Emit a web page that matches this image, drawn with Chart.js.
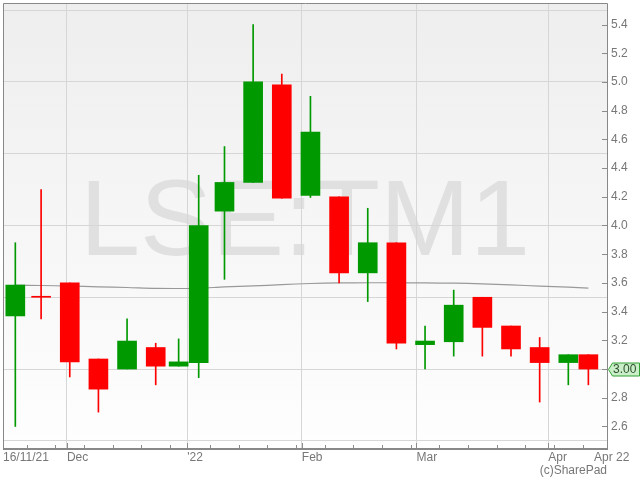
<!DOCTYPE html>
<html>
<head>
<meta charset="utf-8">
<script src="https://cdn.jsdelivr.net/npm/chart.js@4.4.0/dist/chart.umd.min.js"></script>
<style>
  html, body { margin: 0; padding: 0; background: #fff; }
</style>
</head>
<body>
<canvas id="chart" width="640" height="480"></canvas>
<script>
// Weekly candles: first trading day of each week
const weeks = ['2021-11-16', '2021-11-22', '2021-11-29', '2021-12-06', '2021-12-13', '2021-12-20', '2021-12-29',
    '2022-01-04', '2022-01-10', '2022-01-17', '2022-01-24', '2022-01-31', '2022-02-07', '2022-02-14', '2022-02-21',
    '2022-02-28', '2022-03-07', '2022-03-14', '2022-03-21', '2022-03-28', '2022-04-04', '2022-04-11'];
const open  = [3.37, 3.50, 3.60, 3.07, 3.00, 3.15, 3.02, 3.045, 4.10, 4.30, 4.98, 4.21, 4.20, 3.67, 3.88, 3.17, 3.19, 3.50, 3.30, 3.15, 3.045, 3.10];
const high  = [3.88, 4.25, 3.60, 3.07, 3.35, 3.18, 3.21, 4.35, 4.55, 5.40, 5.055, 4.90, 4.20, 4.12, 3.88, 3.30, 3.55, 3.50, 3.30, 3.22, 3.10, 3.10];
const low   = [2.60, 3.35, 2.945, 2.70, 3.00, 2.89, 3.02, 2.94, 3.625, 4.30, 4.19, 4.195, 3.60, 3.47, 3.14, 3.00, 3.09, 3.09, 3.09, 2.77, 2.89, 2.89];
const close = [3.585, 3.50, 3.05, 2.86, 3.195, 3.02, 3.05, 4.00, 4.30, 5.00, 4.19, 4.65, 3.67, 3.88, 3.18, 3.195, 3.445, 3.29, 3.14, 3.045, 3.10, 3.00];
// moving average (grey line)
const ma    = [3.585, 3.582, 3.578, 3.573, 3.568, 3.562, 3.561, 3.563, 3.572, 3.579, 3.588, 3.596, 3.600, 3.601, 3.601, 3.600, 3.598, 3.594, 3.586, 3.578, 3.570, 3.564];

// trading calendar (LSE)
const firstDay = '2021-11-16';
const lastDay = '2022-04-12';
const holidays = ['2021-12-27', '2021-12-28', '2022-01-03'];

// axis labels
const monthStarts = ['2021-12-01', '2022-01-01', '2022-02-01', '2022-03-01', '2022-04-01'];
const monthLabels = ['Dec', "'22", 'Feb', 'Mar', 'Apr'];
const startLabel = '16/11/21';
const endLabel = 'Apr 22';
const yLabelValues = [2.6, 2.8, 3.0, 3.2, 3.4, 3.6, 3.8, 4.0, 4.2, 4.4, 4.6, 4.8, 5.0, 5.2, 5.4];
const yGridValues = [2.5, 3.0, 3.5, 4.0, 4.5, 5.0, 5.5];
const ticker = 'LSE:TM1';

const upColor = '#009900';
const downColor = '#ff0000';
const gridColor = '#d6d6d6';

// build list of trading days, x axis is trading-day index
const days = [];
for (let d = new Date(firstDay + 'T00:00:00Z'); d <= new Date(lastDay + 'T00:00:00Z'); d.setUTCDate(d.getUTCDate() + 1)) {
    const wd = d.getUTCDay();
    const iso = d.toISOString().slice(0, 10);
    if (wd === 0 || wd === 6 || holidays.includes(iso)) continue;
    days.push(iso);
}

const mondayOf = (iso) => {
    const d = new Date(iso + 'T00:00:00Z');
    d.setUTCDate(d.getUTCDate() - ((d.getUTCDay() + 6) % 7));
    return d.toISOString().slice(0, 10);
};

// candle sits in the middle of its week's trading days
const xs = weeks.map(w => {
    const m = mondayOf(w);
    const idx = [];
    days.forEach((d, i) => { if (mondayOf(d) === m) idx.push(i); });
    return idx.reduce((a, b) => a + b, 0) / idx.length;
});
const weekEdges = weeks.slice(1).map(w => days.indexOf(w) - 0.5);
const monthEdges = monthStarts.map(m => days.findIndex(d => d >= m) - 0.5);

const xMin = -0.65;
const xMax = 104.75;
const xTicks = [xMin, ...monthEdges, days.length - 0.5];
const xLabels = [startLabel, ...monthLabels, endLabel];
const yTicks = [...new Set([...yLabelValues, ...yGridValues].map(v => v.toFixed(1)))].map(Number).sort((a, b) => a - b);

const colors = open.map((o, i) => close[i] > o ? upColor : downColor);
const near = (list, v) => list.some(t => Math.abs(t - v) < 1e-6);

Chart.defaults.font.family = '"Liberation Sans", Arial, sans-serif';
Chart.defaults.font.size = 12;
Chart.defaults.color = '#777';

// background, watermark, inner tick marks, frame and last price tag
const sharePadLook = {
    id: 'sharePadLook',
    beforeDraw(chart) {
        const { ctx, chartArea: a } = chart;
        ctx.save();
        const g = ctx.createLinearGradient(0, a.top, 0, a.bottom);
        g.addColorStop(0, '#eeeeee');
        g.addColorStop(1, '#fefefe');
        ctx.fillStyle = g;
        ctx.fillRect(a.left, a.top, a.right - a.left, a.bottom - a.top);
        ctx.font = '108px "Liberation Sans", Arial, sans-serif';
        ctx.fillStyle = '#e0e0e0';
        ctx.textAlign = 'center';
        ctx.textBaseline = 'alphabetic';
        ctx.fillText(ticker, (a.left + a.right) / 2, a.top + 252);
        ctx.restore();
    },
    afterDraw(chart) {
        const { ctx, chartArea: a, scales } = chart;
        ctx.save();
        ctx.strokeStyle = '#8c8c8c';
        ctx.lineWidth = 1;
        ctx.beginPath();
        weekEdges.forEach(v => {
            const px = Math.round(scales.x.getPixelForValue(v)) + 0.5;
            ctx.moveTo(px, a.bottom);
            ctx.lineTo(px, a.bottom - 4);
        });
        monthEdges.forEach(v => {
            const px = Math.round(scales.x.getPixelForValue(v)) + 0.5;
            ctx.moveTo(px, a.bottom);
            ctx.lineTo(px, a.bottom - 6);
        });
        yLabelValues.forEach(v => {
            const py = Math.round(scales.y.getPixelForValue(v)) + 0.5;
            ctx.moveTo(a.right - 5, py);
            ctx.lineTo(a.right, py);
        });
        ctx.stroke();

        // frame
        ctx.strokeStyle = '#888';
        ctx.beginPath();
        ctx.moveTo(a.left + 0.5, a.bottom);
        ctx.lineTo(a.left + 0.5, a.top + 0.5);
        ctx.lineTo(a.right + 0.5, a.top + 0.5);
        ctx.lineTo(a.right + 0.5, a.bottom);
        ctx.stroke();
        ctx.lineWidth = 2;
        ctx.beginPath();
        ctx.moveTo(a.left, a.bottom);
        ctx.lineTo(a.right + 1, a.bottom);
        ctx.stroke();

        // last price tag
        const last = close[close.length - 1];
        const y = Math.round(scales.y.getPixelForValue(last)) + 0.5;
        ctx.lineWidth = 1;
        ctx.fillStyle = '#c9efc9';
        ctx.strokeStyle = '#33a033';
        ctx.beginPath();
        ctx.moveTo(a.right + 1.5, y);
        ctx.lineTo(a.right + 5.5, y - 6.5);
        ctx.lineTo(639.5, y - 6.5);
        ctx.lineTo(639.5, y + 6.5);
        ctx.lineTo(a.right + 5.5, y + 6.5);
        ctx.closePath();
        ctx.fill();
        ctx.stroke();
        ctx.fillStyle = '#2f4f2f';
        ctx.font = '12px "Liberation Sans", Arial, sans-serif';
        ctx.textAlign = 'left';
        ctx.textBaseline = 'middle';
        ctx.fillText(last.toFixed(2), a.right + 6, y + 0.5);

        ctx.fillStyle = '#777';
        ctx.textAlign = 'right';
        ctx.fillText('(c)SharePad', a.right, 471);
        ctx.restore();
    }
};

const ctx = document.getElementById('chart').getContext('2d');
const chart = new Chart(ctx, {
    type: 'bar',
    data: {
        datasets: [{
            type: 'line',
            data: xs.map((x, i) => ({ x: x, y: ma[i] })),
            borderColor: '#999999',
            borderWidth: 1.2,
            pointRadius: 0,
            tension: 0.3,
            order: 3
        }, {
            // wicks
            data: xs.map((x, i) => ({ x: x, y: [low[i], high[i]] })),
            backgroundColor: colors,
            barThickness: 1,
            grouped: false,
            order: 2
        }, {
            // bodies
            data: xs.map((x, i) => ({ x: x, y: [open[i], close[i]] })),
            backgroundColor: colors,
            barThickness: 19,
            minBarLength: 1,
            grouped: false,
            order: 1
        }]
    },
    options: {
        responsive: false,
        animation: false,
        layout: { padding: { left: 3, top: 3, right: 0, bottom: 0 } },
        plugins: { legend: { display: false }, tooltip: { enabled: false } },
        scales: {
            x: {
                type: 'linear',
                min: xMin,
                max: xMax,
                offset: false,
                grid: {
                    offset: false,
                    drawTicks: false,
                    color: (c) => (c.index > 0 && c.index < xTicks.length - 1) ? gridColor : 'rgba(0,0,0,0)'
                },
                border: { display: false },
                afterBuildTicks: (s) => { s.ticks = xTicks.map(v => ({ value: v })); },
                afterFit: (s) => { s.height = 31; s.paddingLeft = 0; s.paddingRight = 0; },
                ticks: {
                    autoSkip: false,
                    maxRotation: 0,
                    align: 'start',
                    padding: 1,
                    color: '#777',
                    callback: (value, index) => xLabels[index]
                }
            },
            y: {
                position: 'right',
                min: 2.443,
                max: 5.55,
                stacked: false,
                grid: {
                    drawTicks: false,
                    color: (c) => near(yGridValues, c.tick.value) ? gridColor : 'rgba(0,0,0,0)'
                },
                border: { display: false },
                afterBuildTicks: (s) => { s.ticks = yTicks.map(v => ({ value: v })); },
                afterFit: (s) => { s.width = 33; s.paddingTop = 0; s.paddingBottom = 0; },
                ticks: {
                    autoSkip: false,
                    padding: 4,
                    color: '#777',
                    callback: (value) => near(yLabelValues, value) ? value.toFixed(1) : ''
                }
            }
        }
    },
    plugins: [sharePadLook]
});
</script>
</body>
</html>
